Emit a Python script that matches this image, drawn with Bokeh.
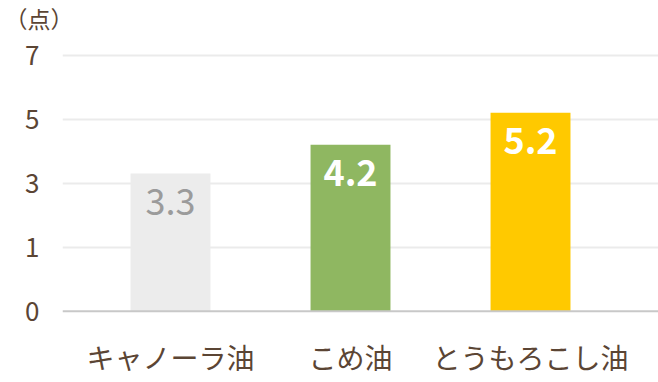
import numpy as np
from bokeh.plotting import figure
from bokeh.models import ColumnDataSource, Span, FixedTicker, Range1d
from bokeh.core.properties import value
from bokeh.embed import file_html
from bokeh.resources import INLINE

categories = ["キャノーラ油", "こめ油", "とうもろこし油"]
scores = [3.3, 4.2, 5.2]
score_labels = ["3.3", "4.2", "5.2"]
bar_colors = ["#ececec", "#8fb761", "#ffc900"]
label_colors = ["#9b9b9b", "#ffffff", "#ffffff"]
label_weights = ["normal", "bold", "bold"]
tick_values = [0, 1, 3, 5, 7]
unit_label = "（点）"

FONT = "Noto Sans CJK JP"
TEXT_COLOR = "#5b4534"

# the y axis is evenly spaced between the listed tick values
tick_pos = list(range(len(tick_values)))
bar_top = np.interp(scores, tick_values, tick_pos)
xs = np.arange(len(categories))

src = ColumnDataSource(dict(x=xs, top=bar_top, color=bar_colors,
                            label=score_labels, lcolor=label_colors,
                            lweight=label_weights))

p = figure(width=658, height=382, output_backend="svg", toolbar_location=None,
           x_range=Range1d(-0.6, 2.711), y_range=Range1d(-0.052, 4.292),
           min_border_left=62, min_border_right=0, min_border_top=36,
           min_border_bottom=68, outline_line_color=None)
p.background_fill_color = "white"
p.border_fill_color = "white"

p.title.text = unit_label
p.title.align = "left"
p.title.vertical_align = "top"
p.title.offset = -58
p.title.standoff = 0
p.title.text_font = FONT
p.title.text_font_size = "23px"
p.title.text_font_style = "normal"
p.title.text_color = TEXT_COLOR

p.vbar(x="x", top="top", bottom=0, width=0.444, color="color", source=src,
       line_color=None)

p.text(x="x", y="top", text="label", text_color="lcolor",
       text_font_style="lweight", text_font=value(FONT), text_font_size="36px",
       text_align="center", text_baseline="middle", y_offset=28, source=src)

# axes
p.xaxis.ticker = FixedTicker(ticks=list(xs))
p.xaxis.major_label_overrides = {int(i): c for i, c in enumerate(categories)}
p.yaxis.ticker = FixedTicker(ticks=tick_pos)
p.yaxis.major_label_overrides = {i: str(v) for i, v in zip(tick_pos, tick_values)}

for ax in (p.xaxis[0], p.yaxis[0]):
    ax.axis_line_color = None
    ax.major_tick_line_color = None
    ax.minor_tick_line_color = None
    ax.major_label_text_font = FONT
    ax.major_label_text_color = TEXT_COLOR

p.xaxis.major_label_text_font_size = "28px"
p.xaxis.major_label_standoff = 16
p.yaxis.major_label_text_font_size = "26px"
p.yaxis.major_label_standoff = 17

p.xgrid.grid_line_color = None
p.ygrid.ticker = FixedTicker(ticks=tick_pos[1:])
p.ygrid.grid_line_color = "#ebebeb"
p.ygrid.grid_line_width = 2

p.add_layout(Span(location=0, dimension="width", line_color="#c8c8c8",
                  line_width=2))

open("out.html", "w").write(file_html(p, INLINE))
